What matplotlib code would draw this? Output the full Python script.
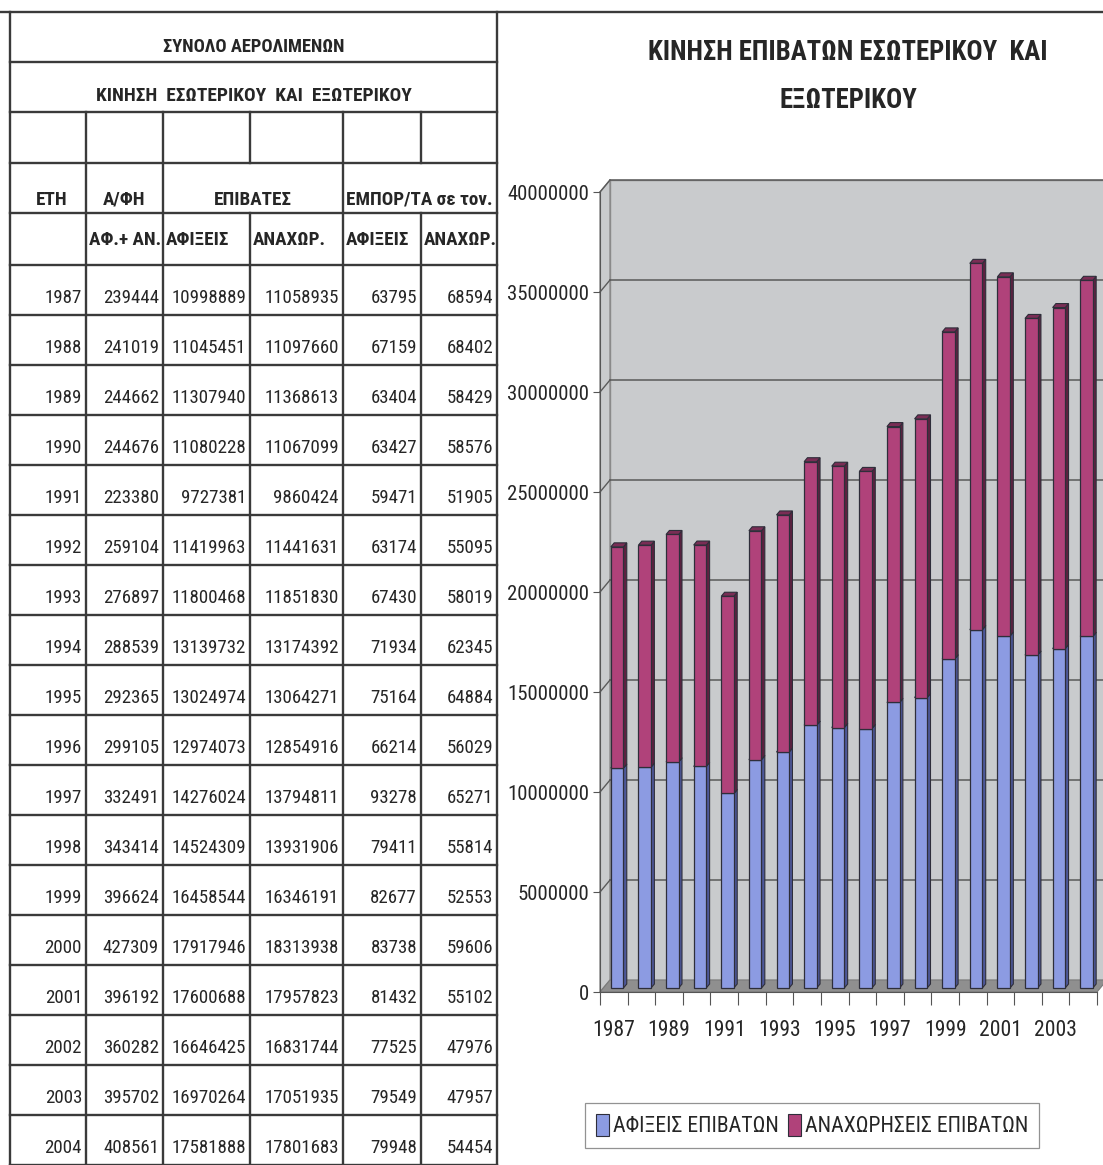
import matplotlib
matplotlib.use("Agg")
import matplotlib.pyplot as plt
from matplotlib import font_manager as fm
from matplotlib.font_manager import FontProperties
from matplotlib.textpath import TextPath
from matplotlib.patches import Polygon, Patch
from matplotlib.ticker import FixedLocator, NullFormatter

# data: total airport traffic, domestic + international
years = [1987, 1988, 1989, 1990, 1991, 1992, 1993, 1994, 1995,
         1996, 1997, 1998, 1999, 2000, 2001, 2002, 2003, 2004]
flights = [239444, 241019, 244662, 244676, 223380, 259104, 276897, 288539, 292365,
           299105, 332491, 343414, 396624, 427309, 396192, 360282, 395702, 408561]
pax_arr = [10998889, 11045451, 11307940, 11080228, 9727381, 11419963, 11800468, 13139732, 13024974,
           12974073, 14276024, 14524309, 16458544, 17917946, 17600688, 16646425, 16970264, 17581888]
pax_dep = [11058935, 11097660, 11368613, 11067099, 9860424, 11441631, 11851830, 13174392, 13064271,
           12854916, 13794811, 13931906, 16346191, 18313938, 17957823, 16831744, 17051935, 17801683]
cargo_arr = [63795, 67159, 63404, 63427, 59471, 63174, 67430, 71934, 75164,
             66214, 93278, 79411, 82677, 83738, 81432, 77525, 79549, 79948]
cargo_dep = [68594, 68402, 58429, 58576, 51905, 55095, 58019, 62345, 64884,
             56029, 65271, 55814, 52553, 59606, 55102, 47976, 47957, 54454]

table_title = "ΣΥΝΟΛΟ ΑΕΡΟΛΙΜΕΝΩΝ"
table_subtitle = "ΚΙΝΗΣΗ  ΕΣΩΤΕΡΙΚΟΥ  ΚΑΙ  ΕΞΩΤΕΡΙΚΟΥ"
group_heads = ["ΕΤΗ", "Α/ΦΗ", "ΕΠΙΒΑΤΕΣ", "ΕΜΠΟΡ/ΤΑ σε τον."]
sub_heads = ["ΑΦ.+ ΑΝ.", "ΑΦΙΞΕΙΣ", "ΑΝΑΧΩΡ.", "ΑΦΙΞΕΙΣ", "ΑΝΑΧΩΡ."]
chart_title = ["ΚΙΝΗΣΗ ΕΠΙΒΑΤΩΝ ΕΣΩΤΕΡΙΚΟΥ  ΚΑΙ", "ΕΞΩΤΕΡΙΚΟΥ"]
series_names = ["ΑΦΙΞΕΙΣ ΕΠΙΒΑΤΩΝ", "ΑΝΑΧΩΡΗΣΕΙΣ ΕΠΙΒΑΤΩΝ"]


def pick_narrow():
    """Return (family, stretch) of a condensed sans face, if one is installed."""
    fonts = fm.fontManager.ttflist
    cond = [f for f in fonts
            if (f.stretch in ("condensed", "semi-condensed", "extra-condensed")
                or "Narrow" in f.name or "Condensed" in f.name)
            and "CJK" not in f.name and "Mono" not in f.name and "Serif" not in f.name]
    names = [f.name for f in cond]
    prefs = ["Liberation Sans Narrow", "Arial Narrow", "Roboto Condensed", "Noto Sans",
             "Noto Sans Condensed", "Open Sans Condensed", "Open Sans", "DejaVu Sans",
             "DejaVu Sans Condensed", "Roboto", "Inter", "Lato"]
    for p in prefs:
        if p in names:
            f = cond[names.index(p)]
            return p, f.stretch
    if cond:
        return cond[0].name, cond[0].stretch
    return "Liberation Sans", "normal"


FAMILY, STRETCH = pick_narrow()
FAM = [FAMILY, "Liberation Sans", "DejaVu Sans"]


def fit_size(text, target_px, weight="normal"):
    # font size (pt) that makes `text` about target_px wide at 100 dpi
    fp = FontProperties(family=FAM, stretch=STRETCH, weight=weight)
    w = TextPath((0, 0), text, size=1, prop=fp).get_extents().width
    return target_px * 0.72 / w


def font(size, weight="normal"):
    return dict(family=FAM, fontstretch=STRETCH, fontsize=size, fontweight=weight)


INK = "#262626"
LINE = "#3a3a3a"

W, H = 1103, 1165
fig = plt.figure(figsize=(W / 100, H / 100), dpi=100)
fig.patch.set_facecolor("white")

# ---------------- table (pixel coordinates) ----------------
tab = fig.add_axes([0, 0, 1, 1])
tab.set_xlim(0, W)
tab.set_ylim(H, 0)
tab.axis("off")

cols = [10, 86, 163, 250, 343, 421, 497]
head_rows = [12, 62, 112, 163, 213, 265]
row_h = 50
n = len(years)
bottom = head_rows[-1] + n * row_h

lw = 1.7
tab.plot([0, W], [12, 12], color=LINE, lw=lw)
for y in head_rows[1:]:
    tab.plot([cols[0], cols[-1]], [y, y], color=LINE, lw=lw)
for i in range(1, n + 1):
    y = head_rows[-1] + i * row_h
    tab.plot([cols[0], cols[-1]], [y, y], color=LINE, lw=lw)
tab.plot([cols[0], cols[0]], [12, bottom], color=LINE, lw=lw)
tab.plot([cols[-1], cols[-1]], [12, bottom], color=LINE, lw=lw)
# inner verticals start below the two title rows; ΕΠΙΒΑΤΕΣ and ΕΜΠΟΡ/ΤΑ are merged cells
for j, x in enumerate(cols[1:-1], start=1):
    if j in (3, 5):
        tab.plot([x, x], [head_rows[2], head_rows[3]], color=LINE, lw=lw)
        tab.plot([x, x], [head_rows[4], bottom], color=LINE, lw=lw)
    else:
        tab.plot([x, x], [head_rows[2], bottom], color=LINE, lw=lw)

s_title = fit_size(table_title, 180, "bold")
s_sub = fit_size(table_subtitle, 315, "bold")
s_head = fit_size("ΕΠΙΒΑΤΕΣ", 76, "bold")
s_data = fit_size("10998889", 72)

tab.text((cols[0] + cols[-1]) / 2, 47, table_title, ha="center", va="center",
         color=INK, **font(s_title, "bold"))
tab.text((cols[0] + cols[-1]) / 2, 96, table_subtitle, ha="center", va="center",
         color=INK, **font(s_sub, "bold"))
hf = dict(va="center", color=INK, **font(s_head, "bold"))
tab.text((cols[0] + cols[1]) / 2 + 4, 200, group_heads[0], ha="center", **hf)
tab.text((cols[1] + cols[2]) / 2, 200, group_heads[1], ha="center", **hf)
tab.text((cols[2] + cols[4]) / 2, 200, group_heads[2], ha="center", **hf)
tab.text(cols[4] + 3, 200, group_heads[3], ha="left", **hf)
for j, s in enumerate(sub_heads):
    tab.text(cols[j + 1] + 3, 240, s, ha="left", **hf)

df = dict(va="center", ha="right", color=INK, **font(s_data))
columns = [years, flights, pax_arr, pax_dep, cargo_arr, cargo_dep]
for i in range(n):
    yc = head_rows[-1] + i * row_h + 33
    for j, col in enumerate(columns):
        tab.text(cols[j + 1] - 4, yc, str(col[i]), **df)

# ---------------- 3-D style stacked column chart ----------------
x0, x1 = 600, 1097
y0, y1 = 992, 192
ax = fig.add_axes([x0 / W, 1 - y0 / H, (x1 - x0) / W, (y0 - y1) / H])
ymax = 40_000_000
ncat = len(years)
ax.set_xlim(0, ncat)
ax.set_ylim(0, ymax)
ax.patch.set_visible(False)

# depth of the box in data units (10 px right, 12 px up)
ddx = 10 * ncat / (x1 - x0)
ddy = 12 * ymax / (y0 - y1)

wall_c = "#c9cbcd"
floor_c = "#8f8f8f"
grid_c = "#5a5a5a"

ax.add_patch(Polygon([(ddx, ddy), (ncat + ddx, ddy), (ncat + ddx, ymax + ddy), (ddx, ymax + ddy)],
                     closed=True, fc=wall_c, ec="#8a8a8a", lw=1, clip_on=False, zorder=1))
ax.add_patch(Polygon([(0, 0), (ddx, ddy), (ddx, ymax + ddy), (0, ymax)],
                     closed=True, fc=wall_c, ec="#8a8a8a", lw=1, clip_on=False, zorder=1))
yticks = list(range(0, ymax + 1, 5_000_000))
for v in yticks[1:]:
    ax.plot([ddx, ncat + ddx], [v + ddy, v + ddy], color=grid_c, lw=1.1, clip_on=False, zorder=2)
    ax.plot([0, ddx], [v, v + ddy], color=grid_c, lw=1.0, clip_on=False, zorder=2)
ax.add_patch(Polygon([(0, 0), (ncat, 0), (ncat + ddx, ddy), (ddx, ddy)],
                     closed=True, fc=floor_c, ec="#7a7a7a", lw=0.8, clip_on=False, zorder=3))

bw = 0.456
xs = [i + 0.5 - bw / 2 for i in range(ncat)]
fdx, fdy = ddx / 3, ddy / 3
bdx, bdy = 2 * ddx / 3, 2 * ddy / 3
edge = "#2e2e3a"
faces = [("#8c9be2", "#4d5899", "#6a77bd"), ("#b0427a", "#5e2140", "#7a2d55")]

bases = [0] * ncat
for (front, side, top), vals in zip(faces, [pax_arr, pax_dep]):
    ax.bar([x + fdx for x in xs], vals, width=bw, bottom=[b + fdy for b in bases],
           align="edge", color=front, edgecolor=edge, linewidth=0.9, zorder=5, clip_on=False)
    for i, v in enumerate(vals):
        b, t = bases[i], bases[i] + v
        r = xs[i] + bw
        ax.add_patch(Polygon([(r + fdx, b + fdy), (r + bdx, b + bdy), (r + bdx, t + bdy), (r + fdx, t + fdy)],
                             closed=True, fc=side, ec=edge, lw=0.8, zorder=4, clip_on=False))
        ax.add_patch(Polygon([(xs[i] + fdx, t + fdy), (r + fdx, t + fdy), (r + bdx, t + bdy), (xs[i] + bdx, t + bdy)],
                             closed=True, fc=top, ec=edge, lw=0.8, zorder=4, clip_on=False))
    bases = [b + v for b, v in zip(bases, vals)]

for s in ["top", "right"]:
    ax.spines[s].set_visible(False)
for s in ["left", "bottom"]:
    ax.spines[s].set_color("#555555")
    ax.spines[s].set_zorder(6)

s_ytick = fit_size("20000000", 80)
s_xtick = fit_size("1987", 40)

ax.set_yticks(yticks)
ax.set_yticklabels([str(v) for v in yticks], color=INK, **font(s_ytick))
ax.tick_params(axis="y", direction="out", length=5, color="#555555", pad=3)

ax.xaxis.set_major_locator(FixedLocator(range(ncat + 1)))
ax.xaxis.set_major_formatter(NullFormatter())
label_pos = [i + 0.5 for i in range(0, ncat, 2)]
ax.xaxis.set_minor_locator(FixedLocator(label_pos))
ax.set_xticklabels([str(years[i]) for i in range(0, ncat, 2)], minor=True,
                   color=INK, **font(s_xtick))
ax.tick_params(axis="x", which="major", direction="out", length=9, color="#555555")
ax.tick_params(axis="x", which="minor", length=0, pad=20)

s_ctitle = fit_size(chart_title[0], 396, "bold")
fig.text(848 / W, 1 - 53 / H, chart_title[0], ha="center", va="center", color=INK,
         **font(s_ctitle, "bold"))
fig.text(848 / W, 1 - 100 / H, chart_title[1], ha="center", va="center", color=INK,
         **font(s_ctitle, "bold"))

s_leg = fit_size(series_names[0], 164)
handles = [Patch(fc=faces[0][0], ec=edge, lw=0.8), Patch(fc=faces[1][0], ec=edge, lw=0.8)]
leg = fig.legend(handles, series_names, ncol=2, loc="upper left",
                 bbox_to_anchor=(585 / W, 1 - 1103 / H), frameon=True, fancybox=False,
                 prop=FontProperties(family=FAM, stretch=STRETCH, size=s_leg),
                 handlelength=0.6, handleheight=1.2,
                 handletextpad=0.2, columnspacing=0.4, borderpad=0.5, borderaxespad=0)
leg.get_frame().set_edgecolor("#777777")
leg.get_frame().set_linewidth(0.9)
for t in leg.get_texts():
    t.set_color(INK)

fig.savefig("out.png", dpi=100, facecolor="white")
